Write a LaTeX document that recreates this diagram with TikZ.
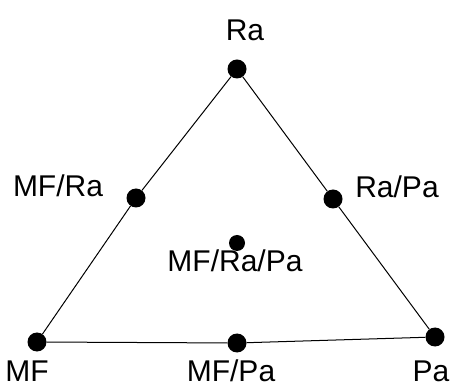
\documentclass[tikz,border=0pt]{standalone}
\usepackage{fontspec}
\setmainfont{Liberation Sans}
\usepackage{tikz}

\begin{document}
\begin{tikzpicture}[x=1pt,y=1pt,
        dot/.style={circle,fill=black,inner sep=0pt,minimum size=19pt},
        lbl/.style={anchor=base,inner sep=0pt,font=\fontsize{30}{36}\selectfont}]
        \useasboundingbox (0,0) rectangle (452,388);

        \node[dot] (ra) at (237,319) {};
        \node[lbl] at (245,347) {Ra};

        \node[dot] (mf) at (37,46) {};
        \node[lbl] at (27,7) {MF};

        \node[dot] (pa) at (435,51) {};
        \node[lbl] at (431,7) {Pa};

        \node[dot] (mfra) at (136,190) {};
        \node[lbl] at (58,191) {MF/Ra};

        \node[dot] (rapa) at (333,189) {};
        \node[lbl] at (397,190) {Ra/Pa};

        \node[dot] (mfpa) at (237,45) {};
        \node[lbl] at (231,7) {MF/Pa};

        \node[dot,minimum size=16pt] (mfrapa) at (237,145) {};
        \node[lbl] at (235,116) {MF/Ra/Pa};

        \draw[line width=1pt] (ra) -- (mfra) -- (mf) -- (mfpa) -- (pa) -- (rapa) -- (ra);
    \end{tikzpicture}
\end{document}
